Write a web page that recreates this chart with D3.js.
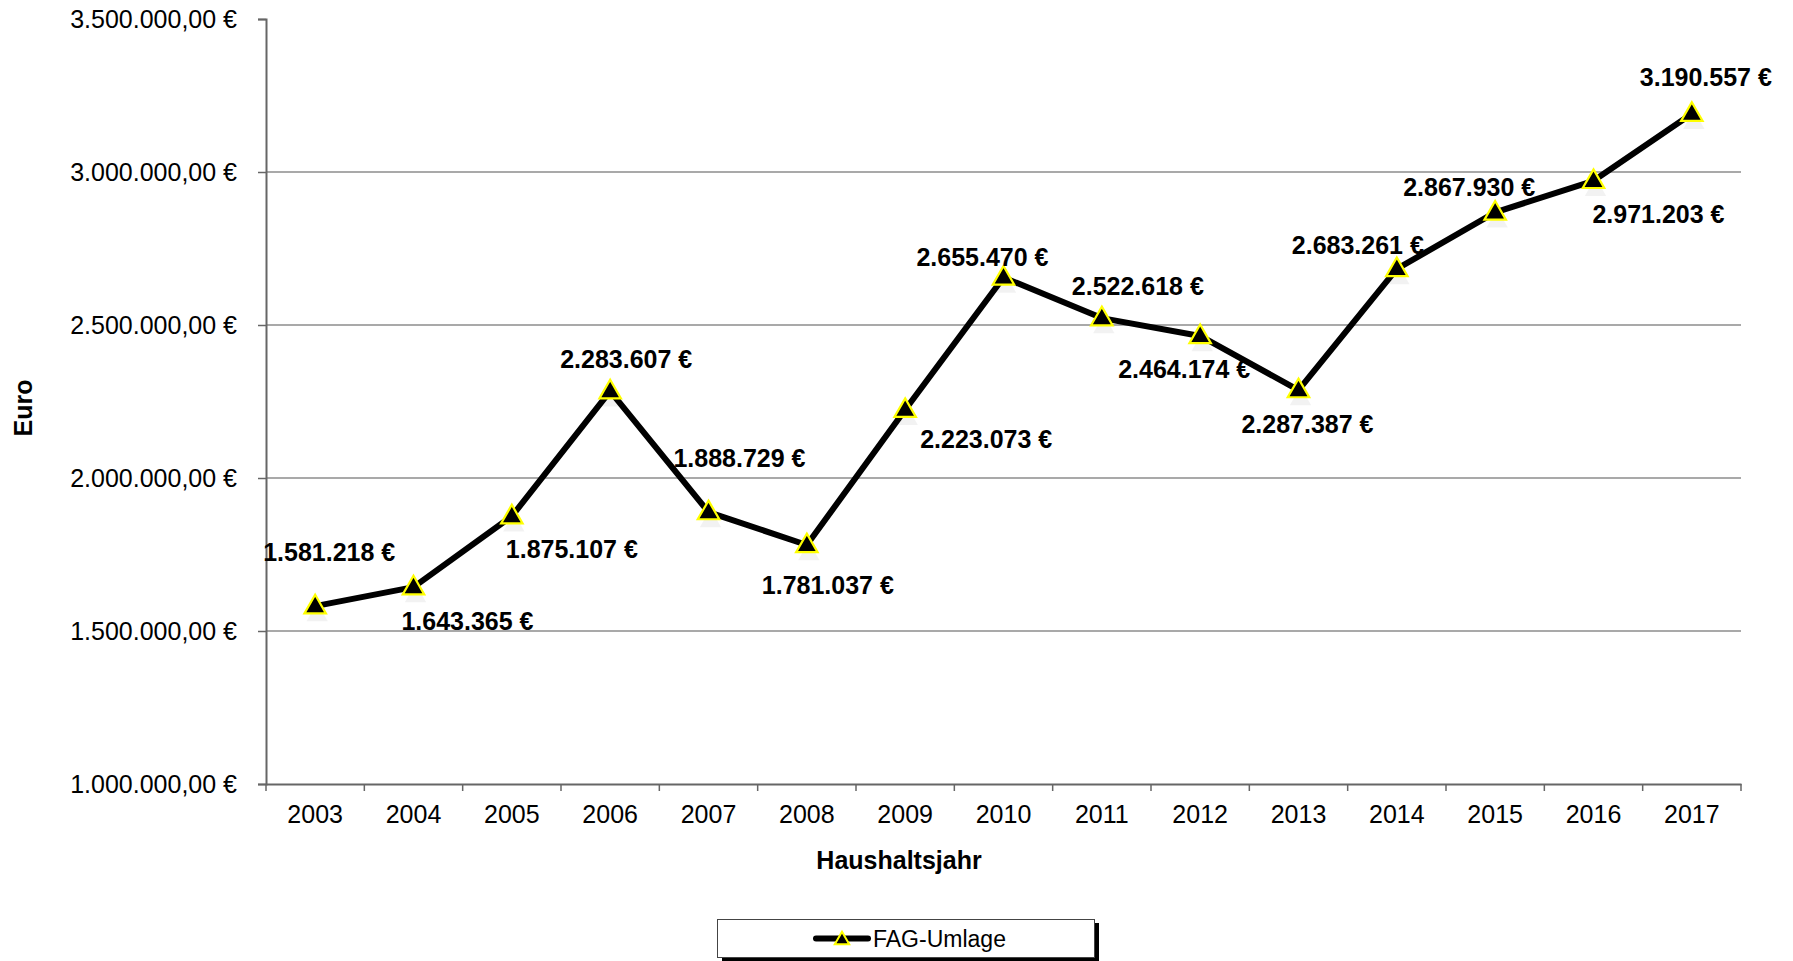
<!DOCTYPE html>
<html>
<head>
<meta charset="utf-8">
<script src="https://cdn.jsdelivr.net/npm/d3@7"></script>
<style>
  html, body { margin: 0; padding: 0; background: #fff; }
  svg { display: block; font-family: "Liberation Sans", Arial, sans-serif; }
</style>
</head>
<body>
<svg id="chart" width="1793" height="961"></svg>
<script>
// ---- data ----
const years = ["2003","2004","2005","2006","2007","2008","2009","2010","2011","2012","2013","2014","2015","2016","2017"];
const fagUmlage = [1581218, 1643365, 1875107, 2283607, 1888729, 1781037, 2223073, 2655470, 2522618, 2464174, 2287387, 2683261, 2867930, 2971203, 3190557];
const yTicks = [1000000, 1500000, 2000000, 2500000, 3000000, 3500000];
const seriesName = "FAG-Umlage";
const xTitle = "Haushaltsjahr";
const yTitle = "Euro";
// label placement (layout only): offset of label centre from its point
const labelOffsets = [[14,-54],[54,34],[60,33],[16,-32],[31,-54],[21,40],[81,29],[-21,-20],[36,-32],[-16,33],[9,34],[-39,-24],[-26,-25],[65,33],[14,-37]];

// ---- layout ----
const plotL = 266, plotR = 1741, plotT = 19, plotB = 784;
const svg = d3.select("#chart");
const de = d3.formatLocale({decimal: ",", thousands: ".", grouping: [3], currency: ["", " €"]});
const fmtTick = v => de.format(",.2f")(v) + " €";
const fmtLabel = v => de.format(",.0f")(v) + " €";

const x = d3.scaleBand().domain(years).range([plotL, plotR]).padding(0);
const y = d3.scaleLinear().domain([1000000, 3500000]).range([plotB, plotT]);

// gridlines
svg.append("g").selectAll("line").data(yTicks.filter(t => t > 1000000 && t < 3500000)).join("line")
  .attr("x1", plotL).attr("x2", plotR)
  .attr("y1", d => y(d)).attr("y2", d => y(d))
  .attr("stroke", "#555").attr("stroke-width", 1.2);

// y axis
const yAxis = svg.append("g").attr("transform", `translate(${plotL},0)`)
  .call(d3.axisLeft(y).tickValues(yTicks).tickFormat(fmtTick).tickSize(8).tickPadding(21));
yAxis.select(".domain").attr("stroke", "#666").attr("stroke-width", 2);
yAxis.selectAll(".tick line").attr("stroke", "#666").attr("stroke-width", 1.5);
yAxis.selectAll("text").attr("font-size", 25).attr("fill", "#000")
  .attr("font-family", "Liberation Sans, Arial, sans-serif");

// x axis
const xAxis = svg.append("g").attr("transform", `translate(0,${plotB})`)
  .call(d3.axisBottom(x).tickSize(0).tickPadding(21));
xAxis.select(".domain").attr("stroke", "#666").attr("stroke-width", 2);
xAxis.selectAll("text").attr("font-size", 25).attr("fill", "#000")
  .attr("font-family", "Liberation Sans, Arial, sans-serif");
// boundary ticks
const bounds = years.map(d => x(d)).concat([x(years[years.length-1]) + x.bandwidth()]);
svg.append("g").selectAll("line").data(bounds).join("line")
  .attr("x1", d => d).attr("x2", d => d)
  .attr("y1", plotB).attr("y2", plotB + 7)
  .attr("stroke", "#666").attr("stroke-width", 1.5);

// axis titles
svg.append("text").attr("x", 899).attr("y", 869).attr("text-anchor", "middle")
  .attr("font-size", 25).attr("font-weight", "bold").text(xTitle);
svg.append("text").attr("transform", "translate(32,408) rotate(-90)").attr("text-anchor", "middle")
  .attr("font-size", 25).attr("font-weight", "bold").text(yTitle);

// line
const cx = (d, i) => x(years[i]) + x.bandwidth() / 2;
const line = d3.line().x((d, i) => cx(d, i)).y(d => y(d));
svg.append("path").datum(fagUmlage).attr("d", line)
  .attr("fill", "none").attr("stroke", "#000").attr("stroke-width", 6)
  .attr("stroke-linejoin", "round");

// markers
const tri = d3.symbol().type(d3.symbolTriangle).size(200);
svg.append("g").selectAll("path.shadow").data(fagUmlage).join("path")
  .attr("d", tri)
  .attr("transform", (d, i) => `translate(${cx(d, i) + 2},${y(d) + 9})`)
  .attr("fill", "#000").attr("opacity", 0.05);
svg.append("g").selectAll("path.mk").data(fagUmlage).join("path")
  .attr("d", tri)
  .attr("transform", (d, i) => `translate(${cx(d, i)},${y(d) + 1})`)
  .attr("fill", "#000").attr("stroke", "#ffff00").attr("stroke-width", 2.2);

// data labels
svg.append("g").selectAll("text").data(fagUmlage).join("text")
  .attr("x", (d, i) => cx(d, i) + labelOffsets[i][0])
  .attr("y", (d, i) => y(d) + labelOffsets[i][1])
  .attr("dy", "0.36em")
  .attr("text-anchor", "middle")
  .attr("font-size", 25).attr("font-weight", "bold").attr("fill", "#000")
  .text(d => fmtLabel(d));

// legend
const lg = svg.append("g");
lg.append("rect").attr("x", 722).attr("y", 923).attr("width", 377).attr("height", 38).attr("fill", "#000");
lg.append("rect").attr("x", 717.5).attr("y", 919.5).attr("width", 377).attr("height", 38)
  .attr("fill", "#fff").attr("stroke", "#444").attr("stroke-width", 1);
lg.append("line").attr("x1", 816).attr("x2", 868).attr("y1", 938.5).attr("y2", 938.5)
  .attr("stroke", "#000").attr("stroke-width", 6).attr("stroke-linecap", "round");
lg.append("path").attr("d", d3.symbol().type(d3.symbolTriangle).size(90))
  .attr("transform", "translate(842,940)")
  .attr("fill", "#000").attr("stroke", "#ffff00").attr("stroke-width", 2);
lg.append("text").attr("x", 873).attr("y", 946.5).attr("font-size", 23).attr("fill", "#000").text(seriesName);
</script>
</body>
</html>
